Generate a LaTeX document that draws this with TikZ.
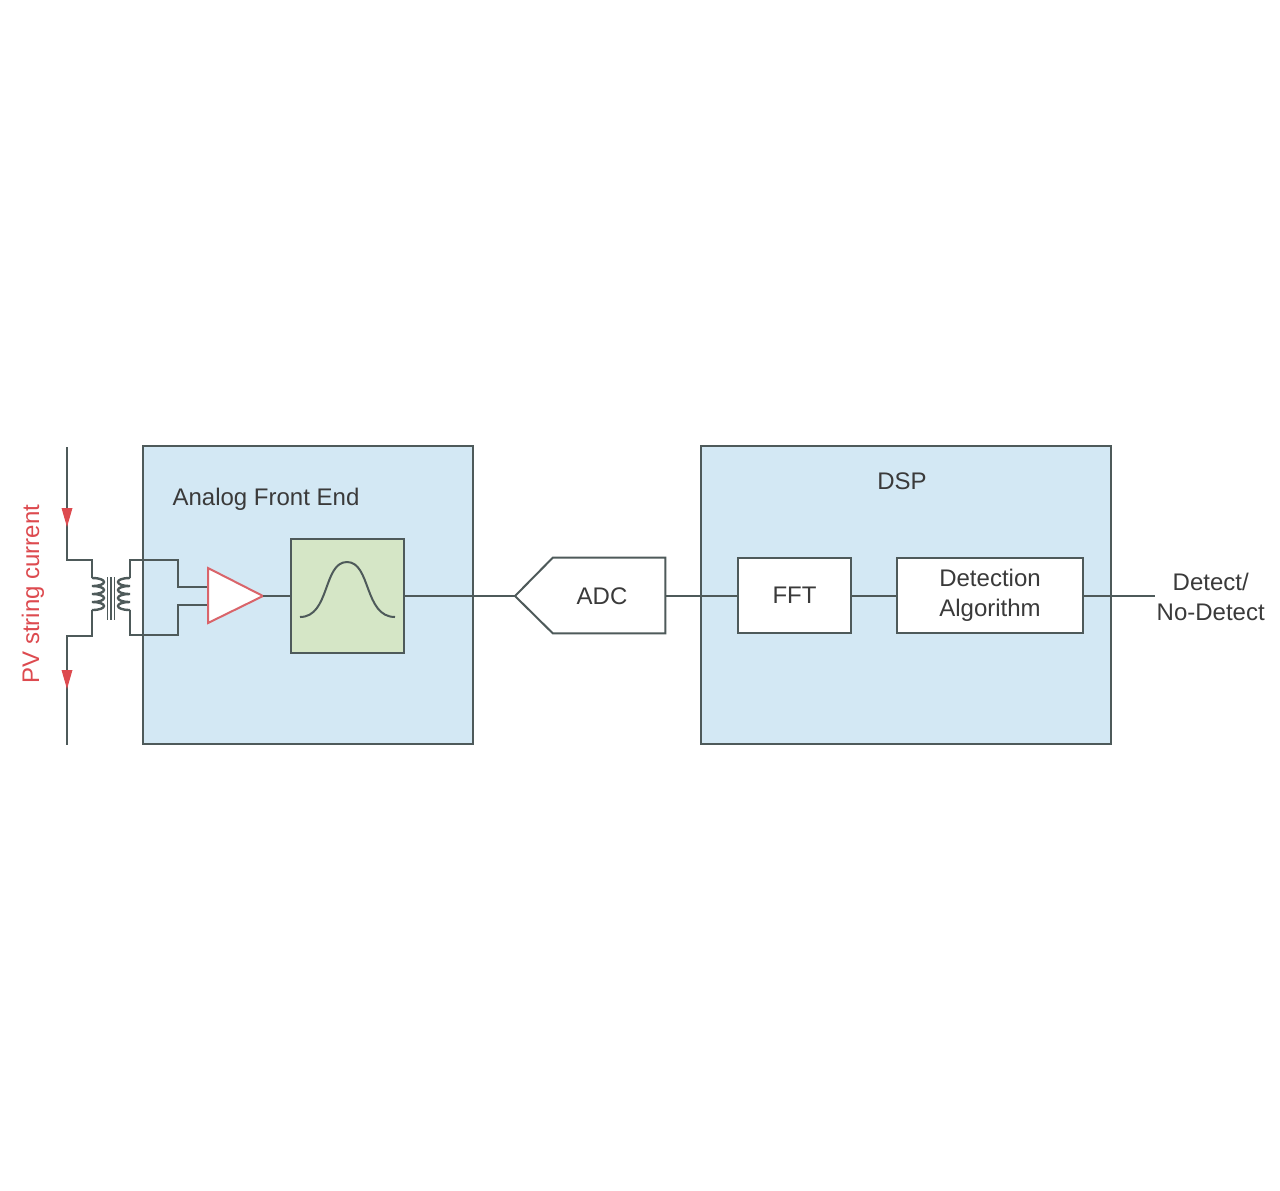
\documentclass[tikz,border=0pt]{standalone}
\usepackage{fontspec}
\setmainfont{Liberation Sans}
\usetikzlibrary{arrows.meta}
\definecolor{boxblue}{HTML}{D3E8F4}
\definecolor{boxgreen}{HTML}{D5E6C6}
\definecolor{linegray}{HTML}{4E5A5A}
\definecolor{txtgray}{HTML}{3A3A3A}
\definecolor{pvred}{HTML}{DD4A4F}
\definecolor{ampred}{HTML}{D9646A}
\tikzset{
  wire/.style={draw=linegray, line width=1.5pt},
  coil/.style={draw=linegray, line width=1.8pt},
  bigbox/.style={draw=linegray, line width=1.5pt, fill=boxblue, minimum width=#1, minimum height=223.5pt, inner sep=0pt},
  blockbox/.style={draw=linegray, line width=1.5pt, fill=white, minimum height=56.25pt, inner sep=0pt, align=center, text=txtgray},
  lbl/.style={text=txtgray, font=\fontsize{18}{22.5}\selectfont, align=center},
}
\begin{document}
\begin{tikzpicture}[x=0.75pt,y=-0.75pt, font=\fontsize{18}{22.5}\selectfont]
\useasboundingbox[fill=white] (0,0) rectangle (1280,1190);
% big boxes
\node[bigbox=247.5pt] (afe) at (308,595) {};
\node[bigbox=307.5pt] (dsp) at (906,595) {};
\node[lbl] (afelbl) at (266,499) {Analog Front End};
\node[lbl] (dsplbl) at (902,481) {DSP};
% PV string wire
\coordinate (pvtop) at (67,447);
\coordinate (pvbot) at (67,745);
\draw[wire] (pvtop) -- (67,560) -- (92,560) -- (92,578);
\draw[coil] (92,578)
  .. controls (108,578) and (108,586) .. (92,586)
  .. controls (108,586) and (108,594) .. (92,594)
  .. controls (108,594) and (108,602) .. (92,602)
  .. controls (108,602) and (108,610) .. (92,610);
\draw[wire] (92,610) -- (92,636) -- (67,636) -- (pvbot);
\fill[pvred] (61.5,508) -- (72.5,508) -- (67,527) -- cycle;
\fill[pvred] (61.5,670) -- (72.5,670) -- (67,689) -- cycle;
\node[text=pvred, rotate=90, font=\fontsize{18}{22}\selectfont] (pvlbl) at (33,594) {PV string current};
% transformer core
\foreach \cx in {107.5,111,114.5} \draw[linegray, line width=1pt] (\cx,577) -- (\cx,620);
% secondary
\coordinate (ampin1) at (208,587);
\coordinate (ampin2) at (208,605);
\draw[wire] (ampin1) -- (178,587) -- (178,560) -- (130,560) -- (130,578);
\draw[coil] (130,578)
  .. controls (114,578) and (114,586) .. (130,586)
  .. controls (114,586) and (114,594) .. (130,594)
  .. controls (114,594) and (114,602) .. (130,602)
  .. controls (114,602) and (114,610) .. (130,610);
\draw[wire] (130,610) -- (130,635) -- (178,635) -- (178,605) -- (ampin2);
% amplifier
\coordinate (amptip) at (263,596);
\draw[draw=ampred, line width=1.5pt, fill=white] (208,568) -- (amptip) -- (208,623) -- cycle;
% filter
\node[draw=linegray, line width=1.5pt, fill=boxgreen, minimum width=84.75pt, minimum height=85.5pt, inner sep=0pt] (filt) at (347.5,596) {};
\draw[linegray, line width=1.5pt] (300,617) .. controls (330,617) and (323,562) .. (347,562) .. controls (371,562) and (364,617) .. (395,617);
% ADC
\coordinate (adcL) at (515,596);
\node[minimum width=84pt, minimum height=56.25pt, inner sep=0pt] (adc) at (609,595.5) {};
\draw[wire, fill=white] (adcL) -- (adc.north west) -- (adc.north east) -- (adc.south east) -- (adc.south west) -- cycle;
\node[lbl] (adctxt) at (602,596) {ADC};
% DSP blocks
\node[blockbox, minimum width=84.75pt] (fft) at (794.5,595.5) {FFT};
\node[blockbox, minimum width=139.5pt] (det) at (990,595.5) {Detection\\Algorithm};
\coordinate (out) at (1155,595.5);
\node[lbl, anchor=west] (outlbl) at (1152,597) {Detect/\\No-Detect};
% connectors
\draw[wire] (amptip) -- (filt.west);
\draw[wire] (filt.east) -- (adcL);
\draw[wire] (adc.east) -- (fft.west);
\draw[wire] (fft.east) -- (det.west);
\draw[wire] (det.east) -- (out);
\end{tikzpicture}
\end{document}
